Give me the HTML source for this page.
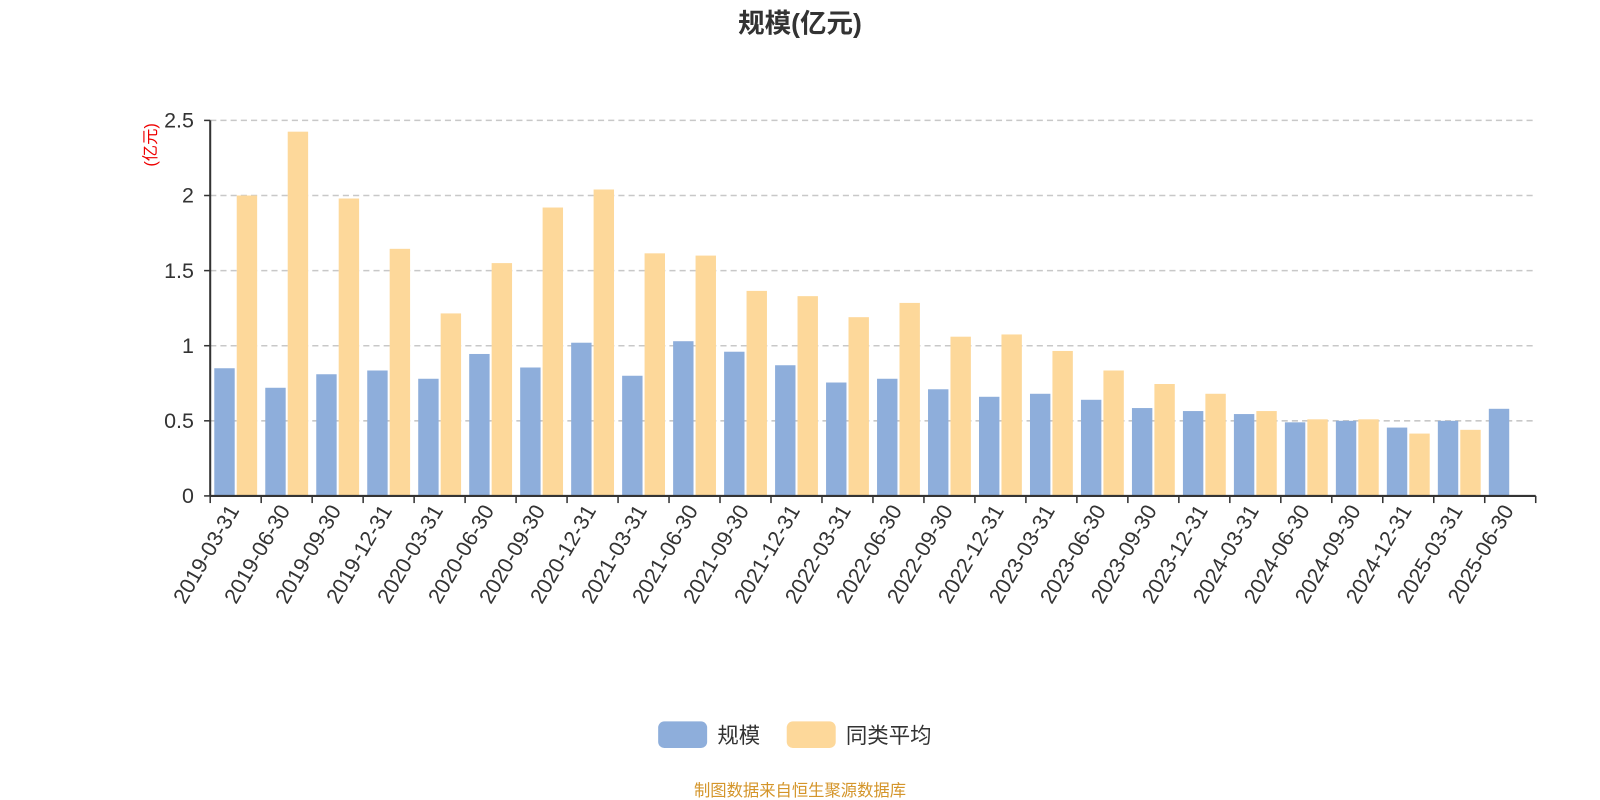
<!DOCTYPE html>
<html><head><meta charset="utf-8"><style>
body{margin:0;background:#fff;font-family:"Liberation Sans","Noto Sans CJK SC",sans-serif;}
svg{display:block;}
svg text{font-family:"Liberation Sans","Noto Sans CJK SC",sans-serif;}
</style></head><body>
<svg id="chart" width="1600" height="800" viewBox="0 0 1568 784" preserveAspectRatio="none">
<text x="784" y="32" text-anchor="middle" font-size="26" font-weight="bold" fill="#333">规模(亿元)</text>
<text transform="translate(153,142) rotate(-90)" text-anchor="middle" font-size="16" fill="#e00">(亿元)</text>
<g id="grid"></g><g id="bars"></g><g id="axes"></g>
<rect x="645" y="707" width="48" height="26" rx="6" fill="#8eaedb"/>
<text x="703" y="728" font-size="21" fill="#333">规模</text>
<rect x="771" y="707" width="48" height="26" rx="6" fill="#fdd89a"/>
<text x="829" y="728" font-size="21" fill="#333">同类平均</text>
<text x="784" y="780" text-anchor="middle" font-size="16" fill="#d4952a">制图数据来自恒生聚源数据库</text>
</svg>
<script>
const categories=["2019-03-31","2019-06-30","2019-09-30","2019-12-31","2020-03-31","2020-06-30","2020-09-30","2020-12-31","2021-03-31","2021-06-30","2021-09-30","2021-12-31","2022-03-31","2022-06-30","2022-09-30","2022-12-31","2023-03-31","2023-06-30","2023-09-30","2023-12-31","2024-03-31","2024-06-30","2024-09-30","2024-12-31","2025-03-31","2025-06-30"];
const scaleValues=[0.85,0.72,0.81,0.835,0.78,0.945,0.855,1.02,0.80,1.03,0.96,0.87,0.755,0.78,0.71,0.66,0.68,0.64,0.585,0.565,0.545,0.49,0.50,0.455,0.50,0.58];
const avgValues=[2.00,2.425,1.98,1.645,1.215,1.55,1.92,2.04,1.615,1.60,1.365,1.33,1.19,1.285,1.06,1.075,0.965,0.835,0.745,0.68,0.565,0.51,0.51,0.415,0.44,null];
const yTicks=[0,0.5,1,1.5,2,2.5];
const tickLabels=["0","0.5","1","1.5","2","2.5"];
const X0=206,X1=1505,Y0=486,Y1=118,YMAX=2.5;
const bw=(X1-X0)/categories.length;
const y=v=>Y0-(v/YMAX)*(Y0-Y1);
const xs=i=>X0+i*bw;
const NS="http://www.w3.org/2000/svg";
function mk(tag,attrs,parent,txt){const e=document.createElementNS(NS,tag);for(const k in attrs)e.setAttribute(k,attrs[k]);if(txt!=null)e.textContent=txt;parent.appendChild(e);return e;}
const grid=document.getElementById('grid'),bars=document.getElementById('bars'),axes=document.getElementById('axes');
yTicks.forEach((t,i)=>{
  if(t>0){const l=mk('line',{x1:X0,x2:X1,y1:y(t),y2:y(t),stroke:'#c8c8c8','stroke-dasharray':'6,4','stroke-width':1.5},grid);
  
  }
  const tl=mk('text',{x:190,y:y(t)+7,'text-anchor':'end','font-size':21,fill:'#333'},axes,tickLabels[i]);
  
  
  const tk=mk('line',{x1:X0-6,x2:X0,y1:y(t),y2:y(t),stroke:'#333','stroke-width':1.5},axes);
  
  
});
categories.forEach((c,i)=>{
  const x=xs(i);
  if(scaleValues[i]!=null){const r=mk('rect',{x:x+4,y:y(scaleValues[i]),width:20,height:Y0-y(scaleValues[i]),fill:'#8eaedb'},bars);
  
  }
  if(avgValues[i]!=null){const r=mk('rect',{x:x+26,y:y(avgValues[i]),width:20,height:Y0-y(avgValues[i]),fill:'#fdd89a'},bars);
  
  }
  const tk=mk('line',{x1:x,x2:x,y1:Y0,y2:Y0+7,stroke:'#333','stroke-width':1.5},axes);
  
  
  const cx=x+bw/2;
  const t=mk('text',{transform:`translate(${cx+4},${Y0+14}) rotate(-60)`,'text-anchor':'end','font-size':21,fill:'#333'},axes,c);
  
  
});
const lt=mk('line',{x1:X1,x2:X1,y1:Y0,y2:Y0+7,stroke:'#333','stroke-width':1.5},axes);


const xa=mk('line',{x1:X0,x2:X1,y1:Y0,y2:Y0,stroke:'#333','stroke-width':2},axes);


const ya=mk('line',{x1:X0,x2:X0,y1:Y1,y2:Y0,stroke:'#333','stroke-width':2},axes);


</script>
</body></html>
